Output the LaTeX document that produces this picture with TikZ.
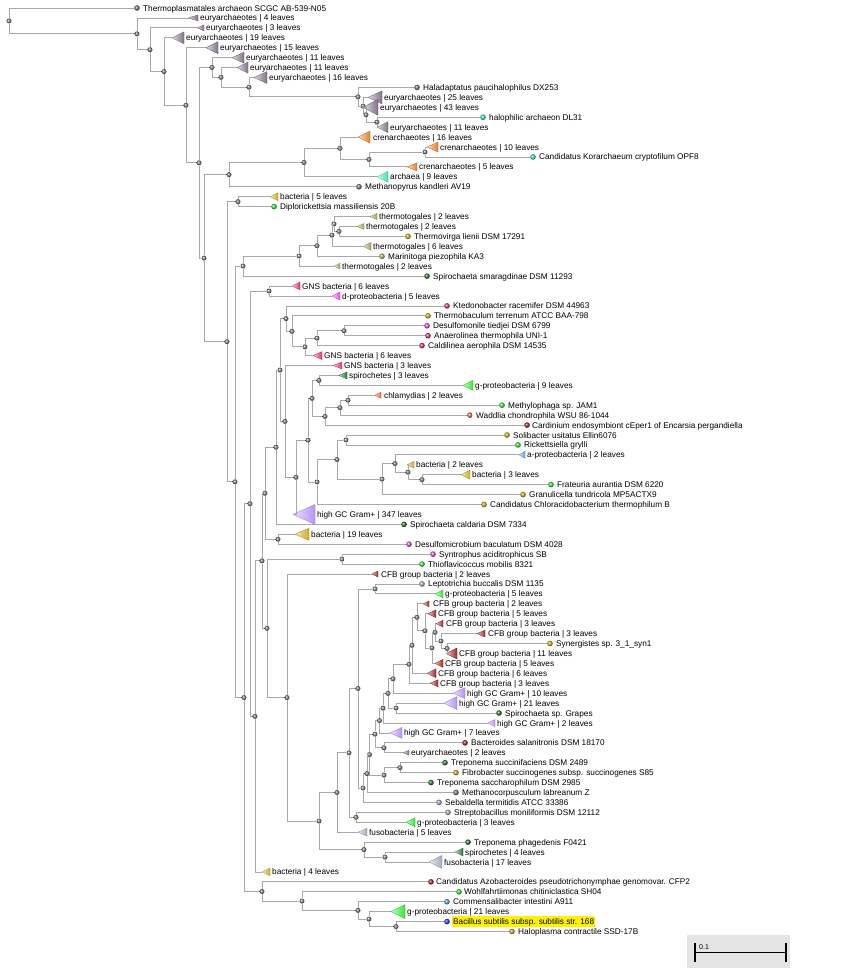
\documentclass[tikz,border=0pt]{standalone}
\usepackage{fontspec}
\setmainfont{Liberation Sans}
\usetikzlibrary{positioning}
\definecolor{branchgray}{RGB}{168,168,168}
\definecolor{eury}{RGB}{128,112,135}
\definecolor{cren}{RGB}{228,128,40}
\definecolor{archmint}{RGB}{60,228,170}
\definecolor{halocyan}{RGB}{60,222,196}
\definecolor{bactgold}{RGB}{206,170,32}
\definecolor{gamgreen}{RGB}{50,232,50}
\definecolor{thermo}{RGB}{165,160,92}
\definecolor{marini}{RGB}{182,172,104}
\definecolor{spirogreen}{RGB}{40,120,52}
\definecolor{gnspink}{RGB}{226,50,110}
\definecolor{deltamag}{RGB}{240,72,240}
\definecolor{chlamorange}{RGB}{245,100,50}
\definecolor{cfbred}{RGB}{160,40,40}
\definecolor{alphablue}{RGB}{90,165,240}
\definecolor{highgc}{RGB}{182,146,246}
\definecolor{fusogray}{RGB}{160,172,190}
\definecolor{bacblue}{RGB}{40,60,230}
\definecolor{scalebg}{RGB}{228,228,228}
\begin{document}
\begin{tikzpicture}[x=1pt,y=-9.93pt,
inner node/.style={circle,ball color=gray,inner sep=0pt,minimum size=5pt},
leaf ball/.style={circle,ball color=#1,inner sep=0pt,minimum size=5.6pt},
leaf label/.style={anchor=west,inner xsep=1pt,inner ysep=1.2pt,text height=1.45ex,text depth=.3ex,font=\fontsize{8.25}{9}\selectfont},
branch/.style={draw=branchgray,line width=.8pt},
pics/clade/.style n args={3}{code={\shade[left color=#3!25!white,right color=#3,draw=#3!80!black,line width=.3pt] (0,0) -- (#1pt,#2pt) -- (#1pt,-#2pt) -- cycle;}}]
\useasboundingbox (0,-0.806) rectangle (853,97.18);
% leaves and collapsed clades, one row each
\node[leaf ball=eury] (l0) at (137,0) {}; \node[leaf label] (t0) at (142,0) {Thermoplasmatales archaeon SCGC AB-539-N05};
\coordinate (l1) at (188,1); \pic at (l1) {clade={10}{3}{eury}}; \node[leaf label] (t1) at (199,1) {euryarchaeotes | 4 leaves};
\coordinate (l2) at (197,2); \pic at (l2) {clade={7}{3}{eury}}; \node[leaf label] (t2) at (205,2) {euryarchaeotes | 3 leaves};
\coordinate (l3) at (172,3); \pic at (l3) {clade={12}{6}{eury}}; \node[leaf label] (t3) at (185,3) {euryarchaeotes | 19 leaves};
\coordinate (l4) at (206,4); \pic at (l4) {clade={12}{6}{eury}}; \node[leaf label] (t4) at (219,4) {euryarchaeotes | 15 leaves};
\coordinate (l5) at (232,5); \pic at (l5) {clade={12}{5.5}{eury}}; \node[leaf label] (t5) at (245,5) {euryarchaeotes | 11 leaves};
\coordinate (l6) at (237,6); \pic at (l6) {clade={11}{5.5}{eury}}; \node[leaf label] (t6) at (249,6) {euryarchaeotes | 11 leaves};
\coordinate (l7) at (254,7); \pic at (l7) {clade={13}{6}{eury}}; \node[leaf label] (t7) at (268,7) {euryarchaeotes | 16 leaves};
\node[leaf ball=eury] (l8) at (417,8) {}; \node[leaf label] (t8) at (422,8) {Haladaptatus paucihalophilus DX253};
\coordinate (l9) at (368,9); \pic at (l9) {clade={14}{6.5}{eury}}; \node[leaf label] (t9) at (383,9) {euryarchaeotes | 25 leaves};
\coordinate (l10) at (363,10); \pic at (l10) {clade={15}{8}{eury}}; \node[leaf label] (t10) at (379,10) {euryarchaeotes | 43 leaves};
\node[leaf ball=halocyan] (l11) at (483,11) {}; \node[leaf label] (t11) at (488,11) {halophilic archaeon DL31};
\coordinate (l12) at (377,12); \pic at (l12) {clade={11}{5.5}{eury}}; \node[leaf label] (t12) at (389,12) {euryarchaeotes | 11 leaves};
\coordinate (l13) at (358,13); \pic at (l13) {clade={12}{6}{cren}}; \node[leaf label] (t13) at (372,13) {crenarchaeotes | 16 leaves};
\coordinate (l14) at (427,14); \pic at (l14) {clade={11}{5}{cren}}; \node[leaf label] (t14) at (439,14) {crenarchaeotes | 10 leaves};
\node[leaf ball=halocyan] (l15) at (533,15) {}; \node[leaf label] (t15) at (538,15) {Candidatus Korarchaeum cryptofilum OPF8};
\coordinate (l16) at (407,16); \pic at (l16) {clade={10}{4}{cren}}; \node[leaf label] (t16) at (418,16) {crenarchaeotes | 5 leaves};
\coordinate (l17) at (377,17); \pic at (l17) {clade={11}{5.5}{archmint}}; \node[leaf label] (t17) at (389,17) {archaea | 9 leaves};
\node[leaf ball=eury] (l18) at (359,18) {}; \node[leaf label] (t18) at (364,18) {Methanopyrus kandleri AV19};
\coordinate (l19) at (270,19); \pic at (l19) {clade={8}{4}{bactgold}}; \node[leaf label] (t19) at (279,19) {bacteria | 5 leaves};
\node[leaf ball=gamgreen] (l20) at (274,20) {}; \node[leaf label] (t20) at (279,20) {Diplorickettsia massiliensis 20B};
\coordinate (l21) at (370,21); \pic at (l21) {clade={7}{3}{thermo}}; \node[leaf label] (t21) at (378,21) {thermotogales | 2 leaves};
\coordinate (l22) at (357,22); \pic at (l22) {clade={7}{3}{thermo}}; \node[leaf label] (t22) at (365,22) {thermotogales | 2 leaves};
\node[leaf ball=bactgold] (l23) at (408,23) {}; \node[leaf label] (t23) at (413,23) {Thermovirga lienii DSM 17291};
\coordinate (l24) at (363,24); \pic at (l24) {clade={8}{4}{thermo}}; \node[leaf label] (t24) at (372,24) {thermotogales | 6 leaves};
\node[leaf ball=marini] (l25) at (382,25) {}; \node[leaf label] (t25) at (387,25) {Marinitoga piezophila KA3};
\coordinate (l26) at (334,26); \pic at (l26) {clade={6}{3}{thermo}}; \node[leaf label] (t26) at (341,26) {thermotogales | 2 leaves};
\node[leaf ball=spirogreen] (l27) at (427,27) {}; \node[leaf label] (t27) at (432,27) {Spirochaeta smaragdinae DSM 11293};
\coordinate (l28) at (292,28); \pic at (l28) {clade={8}{4}{gnspink}}; \node[leaf label] (t28) at (301,28) {GNS bacteria | 6 leaves};
\coordinate (l29) at (332,29); \pic at (l29) {clade={8}{4}{deltamag}}; \node[leaf label] (t29) at (341,29) {d-proteobacteria | 5 leaves};
\node[leaf ball=gnspink] (l30) at (447,30) {}; \node[leaf label] (t30) at (452,30) {Ktedonobacter racemifer DSM 44963};
\node[leaf ball=bactgold] (l31) at (428,31) {}; \node[leaf label] (t31) at (433,31) {Thermobaculum terrenum ATCC BAA-798};
\node[leaf ball=deltamag] (l32) at (427,32) {}; \node[leaf label] (t32) at (432,32) {Desulfomonile tiedjei DSM 6799};
\node[leaf ball=gnspink] (l33) at (428,33) {}; \node[leaf label] (t33) at (433,33) {Anaerolinea thermophila UNI-1};
\node[leaf ball=gnspink] (l34) at (422,34) {}; \node[leaf label] (t34) at (427,34) {Caldilinea aerophila DSM 14535};
\coordinate (l35) at (313,35); \pic at (l35) {clade={9}{4}{gnspink}}; \node[leaf label] (t35) at (323,35) {GNS bacteria | 6 leaves};
\coordinate (l36) at (333,36); \pic at (l36) {clade={9}{3.5}{gnspink}}; \node[leaf label] (t36) at (343,36) {GNS bacteria | 3 leaves};
\coordinate (l37) at (339,37); \pic at (l37) {clade={8}{3.5}{spirogreen}}; \node[leaf label] (t37) at (348,37) {spirochetes | 3 leaves};
\coordinate (l38) at (463,38); \pic at (l38) {clade={10}{5}{gamgreen}}; \node[leaf label] (t38) at (474,38) {g-proteobacteria | 9 leaves};
\coordinate (l39) at (375,39); \pic at (l39) {clade={6}{3}{chlamorange}}; \node[leaf label] (t39) at (383,39) {chlamydias | 2 leaves};
\node[leaf ball=gamgreen] (l40) at (502,40) {}; \node[leaf label] (t40) at (507,40) {Methylophaga sp. JAM1};
\node[leaf ball=chlamorange] (l41) at (470,41) {}; \node[leaf label] (t41) at (475,41) {Waddlia chondrophila WSU 86-1044};
\node[leaf ball=cfbred] (l42) at (527,42) {}; \node[leaf label] (t42) at (531,42) {Cardinium endosymbiont cEper1 of Encarsia pergandiella};
\node[leaf ball=bactgold] (l43) at (507,43) {}; \node[leaf label] (t43) at (512,43) {Solibacter usitatus Ellin6076};
\node[leaf ball=gamgreen] (l44) at (518,44) {}; \node[leaf label] (t44) at (523,44) {Rickettsiella grylli};
\coordinate (l45) at (519,45); \pic at (l45) {clade={6}{3.5}{alphablue}}; \node[leaf label] (t45) at (526,45) {a-proteobacteria | 2 leaves};
\coordinate (l46) at (407,46); \pic at (l46) {clade={7}{3.5}{bactgold}}; \node[leaf label] (t46) at (415,46) {bacteria | 2 leaves};
\coordinate (l47) at (461,47); \pic at (l47) {clade={9}{4.5}{bactgold}}; \node[leaf label] (t47) at (471,47) {bacteria | 3 leaves};
\node[leaf ball=gamgreen] (l48) at (551,48) {}; \node[leaf label] (t48) at (556,48) {Frateuria aurantia DSM 6220};
\node[leaf ball=bactgold] (l49) at (523,49) {}; \node[leaf label] (t49) at (528,49) {Granulicella tundricola MP5ACTX9};
\node[leaf ball=bactgold] (l50) at (484,50) {}; \node[leaf label] (t50) at (489,50) {Candidatus Chloracidobacterium thermophilum B};
\coordinate (l51) at (293,51); \pic at (l51) {clade={22}{10}{highgc}}; \node[leaf label] (t51) at (316,51) {high GC Gram+ | 347 leaves};
\node[leaf ball=spirogreen] (l52) at (404,52) {}; \node[leaf label] (t52) at (409,52) {Spirochaeta caldaria DSM 7334};
\coordinate (l53) at (295,53); \pic at (l53) {clade={14}{6}{bactgold}}; \node[leaf label] (t53) at (310,53) {bacteria | 19 leaves};
\node[leaf ball=deltamag] (l54) at (409,54) {}; \node[leaf label] (t54) at (414,54) {Desulfomicrobium baculatum DSM 4028};
\node[leaf ball=deltamag] (l55) at (433,55) {}; \node[leaf label] (t55) at (438,55) {Syntrophus aciditrophicus SB};
\node[leaf ball=gamgreen] (l56) at (422,56) {}; \node[leaf label] (t56) at (427,56) {Thioflavicoccus mobilis 8321};
\coordinate (l57) at (372,57); \pic at (l57) {clade={6}{3}{cfbred}}; \node[leaf label] (t57) at (380,57) {CFB group bacteria | 2 leaves};
\node[leaf ball=fusogray] (l58) at (422,58) {}; \node[leaf label] (t58) at (427,58) {Leptotrichia buccalis DSM 1135};
\coordinate (l59) at (435,59); \pic at (l59) {clade={8}{4}{gamgreen}}; \node[leaf label] (t59) at (444,59) {g-proteobacteria | 5 leaves};
\coordinate (l60) at (423,60); \pic at (l60) {clade={6}{3}{cfbred}}; \node[leaf label] (t60) at (432,60) {CFB group bacteria | 2 leaves};
\coordinate (l61) at (428,61); \pic at (l61) {clade={8}{4}{cfbred}}; \node[leaf label] (t61) at (437,61) {CFB group bacteria | 5 leaves};
\coordinate (l62) at (436,62); \pic at (l62) {clade={7}{3.5}{cfbred}}; \node[leaf label] (t62) at (445,62) {CFB group bacteria | 3 leaves};
\coordinate (l63) at (477,63); \pic at (l63) {clade={8}{3.5}{cfbred}}; \node[leaf label] (t63) at (487,63) {CFB group bacteria | 3 leaves};
\node[leaf ball=bactgold] (l64) at (550,64) {}; \node[leaf label] (t64) at (555,64) {Synergistes sp. 3\_1\_syn1};
\coordinate (l65) at (446,65); \pic at (l65) {clade={11}{5.5}{cfbred}}; \node[leaf label] (t65) at (458,65) {CFB group bacteria | 11 leaves};
\coordinate (l66) at (435,66); \pic at (l66) {clade={8}{4}{cfbred}}; \node[leaf label] (t66) at (444,66) {CFB group bacteria | 5 leaves};
\coordinate (l67) at (427,67); \pic at (l67) {clade={9}{4.5}{cfbred}}; \node[leaf label] (t67) at (437,67) {CFB group bacteria | 6 leaves};
\coordinate (l68) at (430,68); \pic at (l68) {clade={8}{3.5}{cfbred}}; \node[leaf label] (t68) at (439,68) {CFB group bacteria | 3 leaves};
\coordinate (l69) at (453,69); \pic at (l69) {clade={12}{5.5}{highgc}}; \node[leaf label] (t69) at (466,69) {high GC Gram+ | 10 leaves};
\coordinate (l70) at (444,70); \pic at (l70) {clade={13}{6.5}{highgc}}; \node[leaf label] (t70) at (458,70) {high GC Gram+ | 21 leaves};
\node[leaf ball=spirogreen] (l71) at (499,71) {}; \node[leaf label] (t71) at (504,71) {Spirochaeta sp. Grapes};
\coordinate (l72) at (488,72); \pic at (l72) {clade={7}{3.5}{highgc}}; \node[leaf label] (t72) at (496,72) {high GC Gram+ | 2 leaves};
\coordinate (l73) at (390,73); \pic at (l73) {clade={12}{5.5}{highgc}}; \node[leaf label] (t73) at (403,73) {high GC Gram+ | 7 leaves};
\node[leaf ball=cfbred] (l74) at (465,74) {}; \node[leaf label] (t74) at (470,74) {Bacteroides salanitronis DSM 18170};
\coordinate (l75) at (403,75); \pic at (l75) {clade={6}{2.5}{eury}}; \node[leaf label] (t75) at (410,75) {euryarchaeotes | 2 leaves};
\node[leaf ball=spirogreen] (l76) at (445,76) {}; \node[leaf label] (t76) at (450,76) {Treponema succinifaciens DSM 2489};
\node[leaf ball=bactgold] (l77) at (456,77) {}; \node[leaf label] (t77) at (461,77) {Fibrobacter succinogenes subsp. succinogenes S85};
\node[leaf ball=spirogreen] (l78) at (431,78) {}; \node[leaf label] (t78) at (436,78) {Treponema saccharophilum DSM 2985};
\node[leaf ball=eury] (l79) at (456,79) {}; \node[leaf label] (t79) at (461,79) {Methanocorpusculum labreanum Z};
\node[leaf ball=fusogray] (l80) at (439,80) {}; \node[leaf label] (t80) at (444,80) {Sebaldella termitidis ATCC 33386};
\node[leaf ball=fusogray] (l81) at (448,81) {}; \node[leaf label] (t81) at (453,81) {Streptobacillus moniliformis DSM 12112};
\coordinate (l82) at (406,82); \pic at (l82) {clade={9}{4.5}{gamgreen}}; \node[leaf label] (t82) at (416,82) {g-proteobacteria | 3 leaves};
\coordinate (l83) at (358,83); \pic at (l83) {clade={9}{4}{fusogray}}; \node[leaf label] (t83) at (368,83) {fusobacteria | 5 leaves};
\node[leaf ball=spirogreen] (l84) at (468,84) {}; \node[leaf label] (t84) at (473,84) {Treponema phagedenis F0421};
\coordinate (l85) at (455,85); \pic at (l85) {clade={8}{4}{spirogreen}}; \node[leaf label] (t85) at (464,85) {spirochetes | 4 leaves};
\coordinate (l86) at (429,86); \pic at (l86) {clade={13}{6.5}{fusogray}}; \node[leaf label] (t86) at (443,86) {fusobacteria | 17 leaves};
\coordinate (l87) at (262,87); \pic at (l87) {clade={8}{4}{bactgold}}; \node[leaf label] (t87) at (271,87) {bacteria | 4 leaves};
\node[leaf ball=cfbred] (l88) at (431,88) {}; \node[leaf label] (t88) at (435,88) {Candidatus Azobacteroides pseudotrichonymphae genomovar. CFP2};
\node[leaf ball=gamgreen] (l89) at (459,89) {}; \node[leaf label] (t89) at (463,89) {Wohlfahrtiimonas chitiniclastica SH04};
\node[leaf ball=alphablue] (l90) at (447,90) {}; \node[leaf label] (t90) at (452,90) {Commensalibacter intestini A911};
\coordinate (l91) at (391,91); \pic at (l91) {clade={14}{7}{gamgreen}}; \node[leaf label] (t91) at (406,91) {g-proteobacteria | 21 leaves};
\node[leaf ball=bacblue] (l92) at (447,92) {}; \node[leaf label,fill=yellow] (t92) at (452,92) {Bacillus subtilis subsp. subtilis str. 168};
\node[leaf ball=bactgold] (l93) at (512,93) {}; \node[leaf label] (t93) at (517,93) {Haloplasma contractile SSD-17B};
% internal nodes
\node[inner node] (root) at (9,1.3) {};
\node[inner node] (nA) at (137,2.6) {};
\node[inner node] (nB) at (150,4.2) {};
\node[inner node] (nC) at (164,6.4) {};
\node[inner node] (nD) at (186,9.8) {};
\node[inner node] (nE) at (199,15.59) {};
\node[inner node] (nF) at (212,5.99) {};
\node[inner node] (nH) at (221,6.98) {};
\node[inner node] (nI) at (249,7.97) {};
\node[inner node] (nJ) at (358,8.94) {};
\node[inner node] (nK) at (363,9.875) {};
\node[inner node] (nL) at (366,10.75) {};
\node[inner node] (nM) at (377,11.5) {};
\node[inner node] (nG) at (204,25.19) {};
\node[inner node] (nN5) at (229,16.78) {};
\node[inner node] (nN4) at (304,15.56) {};
\node[inner node] (nN3) at (340,14.125) {};
\node[inner node] (nN2) at (369,15.25) {};
\node[inner node] (nN1) at (425,14.5) {};
\node[inner node] (nP) at (227,33.6) {};
\node[inner node] (nBx) at (238,19.5) {};
\node[inner node] (nQ) at (235,47.71) {};
\node[inner node] (nR) at (243,25.98) {};
\node[inner node] (nU) at (299,24.97) {};
\node[inner node] (nV) at (317,23.94) {};
\node[inner node] (nW) at (332,22.875) {};
\node[inner node] (nX) at (334,21.75) {};
\node[inner node] (nY) at (339,22.5) {};
\node[inner node] (nT) at (244,69.44) {};
\node[inner node] (nS) at (250,49.92) {};
\node[inner node] (nGN) at (269,28.5) {};
\node[inner node] (nAA) at (255,71.33) {};
\node[inner node] (n18) at (262,55.67) {};
\node[inner node] (s8) at (265,48.87) {};
\node[inner node] (s7) at (276,44.23) {};
\node[inner node] (s6) at (280,36.46) {};
\node[inner node] (c5) at (286,31.28) {};
\node[inner node] (c4) at (292,32.56) {};
\node[inner node] (c3) at (305,34.125) {};
\node[inner node] (c2) at (317,33.25) {};
\node[inner node] (c1) at (344,32.5) {};
\node[inner node] (s5) at (285,41.63) {};
\node[inner node] (s4) at (296,47.26) {};
\node[inner node] (s3) at (308,43.52) {};
\node[inner node] (s2) at (312,39.31) {};
\node[inner node] (s1) at (319,37.5) {};
\node[inner node] (ch3) at (325,41.125) {};
\node[inner node] (ch2) at (340,40.25) {};
\node[inner node] (ch1) at (348,39.5) {};
\node[inner node] (a7) at (317,47.73) {};
\node[inner node] (a6) at (337,45.47) {};
\node[inner node] (a1) at (346,43.5) {};
\node[inner node] (a5) at (382,47.44) {};
\node[inner node] (a4) at (395,45.875) {};
\node[inner node] (a3) at (408,46.75) {};
\node[inner node] (a2) at (422,47.5) {};
\node[inner node] (b1) at (278,53.5) {};
\node[inner node] (n17) at (267,62.47) {};
\node[inner node] (sy) at (342,55.5) {};
\node[inner node] (n16) at (287,69.44) {};
\node[inner node] (n15) at (319,81.875) {};
\node[inner node] (n12) at (337,79.0) {};
\node[inner node] (n11) at (349,75.01) {};
\node[inner node] (n9) at (358,68.53) {};
\node[inner node] (le) at (375,58.5) {};
\node[inner node] (n8) at (363,78.55) {};
\node[inner node] (n7) at (367,77.1) {};
\node[inner node] (n5) at (369.5,75.19) {};
\node[inner node] (n3) at (375,73.13) {};
\node[inner node] (n2) at (379.5,71.76) {};
\node[inner node] (n1) at (383,70.51) {};
\node[inner node] (f10) at (388,69.02) {};
\node[inner node] (f9) at (393,67.55) {};
\node[inner node] (f8) at (409,66.09) {};
\node[inner node] (f7) at (412,64.18) {};
\node[inner node] (f6) at (417,61.36) {};
\node[inner node] (f5) at (425,62.72) {};
\node[inner node] (f4) at (432,64.44) {};
\node[inner node] (f3) at (435,62.875) {};
\node[inner node] (f2) at (441,63.75) {};
\node[inner node] (f1) at (447,64.5) {};
\node[inner node] (g1) at (396,70.5) {};
\node[inner node] (n4) at (384,74.5) {};
\node[inner node] (n6) at (384,77.25) {};
\node[inner node] (n6a) at (400,76.5) {};
\node[inner node] (n10) at (356,81.5) {};
\node[inner node] (n14) at (364,84.75) {};
\node[inner node] (n13) at (385,85.5) {};
\node[inner node] (nZ) at (262,88.97) {};
\node[inner node] (z4) at (302,89.94) {};
\node[inner node] (z3) at (358,90.875) {};
\node[inner node] (z2) at (369,91.75) {};
\node[inner node] (z1) at (396,92.5) {};
% branches
\draw[branch] (root) |- (l0) (root) |- (nA);
\draw[branch] (nA) |- (l1) (nA) |- (nB);
\draw[branch] (nB) |- (l2) (nB) |- (nC);
\draw[branch] (nC) |- (l3) (nC) |- (nD);
\draw[branch] (nD) |- (l4) (nD) |- (nE);
\draw[branch] (nE) |- (nF) (nE) |- (nG);
\draw[branch] (nF) |- (l5) (nF) |- (nH);
\draw[branch] (nH) |- (l6) (nH) |- (nI);
\draw[branch] (nI) |- (l7) (nI) |- (nJ);
\draw[branch] (nJ) |- (l8) (nJ) |- (nK);
\draw[branch] (nK) |- (l9) (nK) |- (nL);
\draw[branch] (nL) |- (l10) (nL) |- (nM);
\draw[branch] (nM) |- (l11) (nM) |- (l12);
\draw[branch] (nG) |- (nN5) (nG) |- (nP);
\draw[branch] (nN5) |- (nN4) (nN5) |- (l18);
\draw[branch] (nN4) |- (nN3) (nN4) |- (l17);
\draw[branch] (nN3) |- (l13) (nN3) |- (nN2);
\draw[branch] (nN2) |- (nN1) (nN2) |- (l16);
\draw[branch] (nN1) |- (l14) (nN1) |- (l15);
\draw[branch] (nP) |- (nBx) (nP) |- (nQ);
\draw[branch] (nBx) |- (l19) (nBx) |- (l20);
\draw[branch] (nQ) |- (nR) (nQ) |- (nT);
\draw[branch] (nR) |- (nU) (nR) |- (l27);
\draw[branch] (nU) |- (nV) (nU) |- (l26);
\draw[branch] (nV) |- (nW) (nV) |- (l25);
\draw[branch] (nW) |- (nX) (nW) |- (l24);
\draw[branch] (nX) |- (l21) (nX) |- (nY);
\draw[branch] (nY) |- (l22) (nY) |- (l23);
\draw[branch] (nT) |- (nS) (nT) |- (nZ);
\draw[branch] (nS) |- (nGN) (nS) |- (nAA);
\draw[branch] (nGN) |- (l28) (nGN) |- (l29);
\draw[branch] (nAA) |- (n18) (nAA) |- (l87);
\draw[branch] (n18) |- (s8) (n18) |- (n17);
\draw[branch] (s8) |- (s7) (s8) |- (b1);
\draw[branch] (s7) |- (s6) (s7) |- (l52);
\draw[branch] (s6) |- (c5) (s6) |- (s5);
\draw[branch] (c5) |- (l30) (c5) |- (c4);
\draw[branch] (c4) |- (l31) (c4) |- (c3);
\draw[branch] (c3) |- (c2) (c3) |- (l35);
\draw[branch] (c2) |- (c1) (c2) |- (l34);
\draw[branch] (c1) |- (l32) (c1) |- (l33);
\draw[branch] (s5) |- (l36) (s5) |- (s4);
\draw[branch] (s4) |- (s3) (s4) |- (l51);
\draw[branch] (s3) |- (s2) (s3) |- (a7);
\draw[branch] (s2) |- (s1) (s2) |- (ch3);
\draw[branch] (s1) |- (l37) (s1) |- (l38);
\draw[branch] (ch3) |- (ch2) (ch3) |- (l42);
\draw[branch] (ch2) |- (ch1) (ch2) |- (l41);
\draw[branch] (ch1) |- (l39) (ch1) |- (l40);
\draw[branch] (a7) |- (a6) (a7) |- (l50);
\draw[branch] (a6) |- (a1) (a6) |- (a5);
\draw[branch] (a1) |- (l43) (a1) |- (l44);
\draw[branch] (a5) |- (a4) (a5) |- (l49);
\draw[branch] (a4) |- (l45) (a4) |- (a3);
\draw[branch] (a3) |- (l46) (a3) |- (a2);
\draw[branch] (a2) |- (l47) (a2) |- (l48);
\draw[branch] (b1) |- (l53) (b1) |- (l54);
\draw[branch] (n17) |- (sy) (n17) |- (n16);
\draw[branch] (sy) |- (l55) (sy) |- (l56);
\draw[branch] (n16) |- (l57) (n16) |- (n15);
\draw[branch] (n15) |- (n12) (n15) |- (n14);
\draw[branch] (n12) |- (n11) (n12) |- (l83);
\draw[branch] (n11) |- (n9) (n11) |- (n10);
\draw[branch] (n9) |- (le) (n9) |- (n8);
\draw[branch] (le) |- (l58) (le) |- (l59);
\draw[branch] (n8) |- (n7) (n8) |- (l80);
\draw[branch] (n7) |- (n5) (n7) |- (l79);
\draw[branch] (n5) |- (n3) (n5) |- (n6);
\draw[branch] (n3) |- (n2) (n3) |- (n4);
\draw[branch] (n2) |- (n1) (n2) |- (l73);
\draw[branch] (n1) |- (f10) (n1) |- (l72);
\draw[branch] (f10) |- (f9) (f10) |- (g1);
\draw[branch] (f9) |- (f8) (f9) |- (l69);
\draw[branch] (f8) |- (f7) (f8) |- (l68);
\draw[branch] (f7) |- (f6) (f7) |- (l67);
\draw[branch] (f6) |- (l60) (f6) |- (f5);
\draw[branch] (f5) |- (l61) (f5) |- (f4);
\draw[branch] (f4) |- (f3) (f4) |- (l66);
\draw[branch] (f3) |- (l62) (f3) |- (f2);
\draw[branch] (f2) |- (l63) (f2) |- (f1);
\draw[branch] (f1) |- (l64) (f1) |- (l65);
\draw[branch] (g1) |- (l70) (g1) |- (l71);
\draw[branch] (n4) |- (l74) (n4) |- (l75);
\draw[branch] (n6) |- (n6a) (n6) |- (l78);
\draw[branch] (n6a) |- (l76) (n6a) |- (l77);
\draw[branch] (n10) |- (l81) (n10) |- (l82);
\draw[branch] (n14) |- (l84) (n14) |- (n13);
\draw[branch] (n13) |- (l85) (n13) |- (l86);
\draw[branch] (nZ) |- (l88) (nZ) |- (z4);
\draw[branch] (z4) |- (l89) (z4) |- (z3);
\draw[branch] (z3) |- (l90) (z3) |- (z2);
\draw[branch] (z2) |- (l91) (z2) |- (z1);
\draw[branch] (z1) |- (l92) (z1) |- (l93);
% scale bar
\fill[scalebg] (687,93.35) rectangle (790,96.68);
\draw[line width=1.5pt] (695,95.13) -- (786,95.13);
\draw[line width=1.8pt] (695,94.16) -- (695,96.07) (786,94.16) -- (786,96.07);
\node[anchor=west,inner sep=0pt,font=\fontsize{7}{8}\selectfont] (sb) at (699,94.55) {0.1};
\end{tikzpicture}
\end{document}
